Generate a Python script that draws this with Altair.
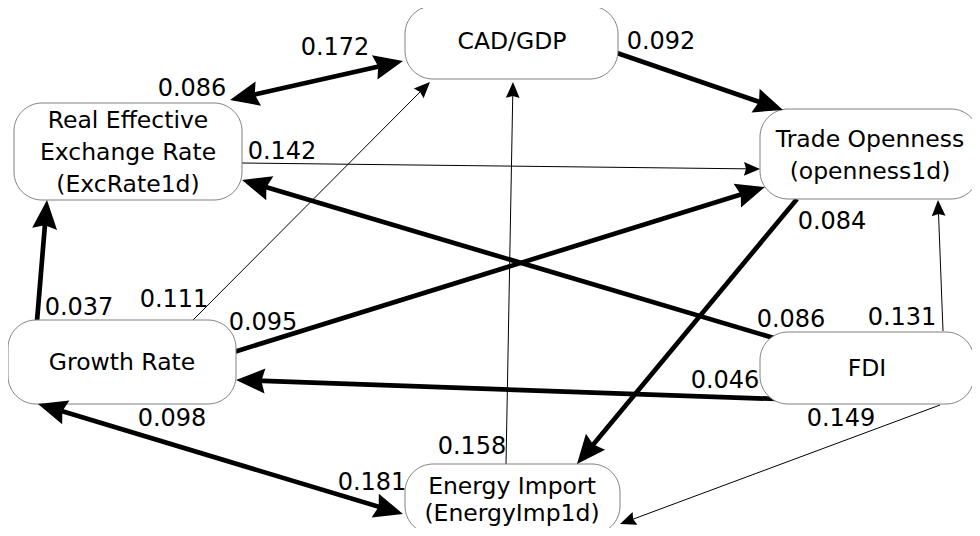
import math
import altair as alt
import pandas as pd

# ---------------- data ----------------
node_labels = [
    "CAD/GDP",
    "Real Effective\nExchange Rate\n(ExcRate1d)",
    "Trade Openness\n(openness1d)",
    "Growth Rate",
    "FDI",
    "Energy Import\n(EnergyImp1d)",
]

# path coefficients printed on the diagram
coef_values = ["0.172", "0.086", "0.092", "0.142", "0.084", "0.037", "0.111",
               "0.095", "0.098", "0.181", "0.158", "0.086", "0.131", "0.046", "0.149"]

# edges: source, target, thick line?, double-headed?
edge_source = ["REER", "CAD", "REER", "GR", "GR", "GR", "FDI", "FDI", "FDI", "FDI", "TO", "EI", "GR"]
edge_target = ["CAD", "TO", "TO", "REER", "CAD", "TO", "REER", "GR", "TO", "EI", "EI", "CAD", "EI"]
edge_thick = [True, True, False, True, False, True, True, True, False, False, True, False, True]
edge_both = [True, False, False, False, False, False, False, False, False, False, False, False, True]

# ---------------- layout (page pixel coordinates) ----------------
box_x1 = [405, 14, 760, 8, 760, 405]
box_x2 = [618, 242, 979, 236, 974, 620]
box_y1 = [6, 103, 109, 320, 332, 464]
box_y2 = [79, 200, 199, 404, 404, 534]
text_x = [512, 128, 870, 122, 867, 512]
text_y = [42, 121, 140, 363, 369, 487]   # centre of first text line
text_lh = [32, 32, 32, 32, 32, 27]

edge_x1 = [230, 617, 242, 37, 193, 234, 777, 777, 943, 940, 797, 506, 38]
edge_y1 = [100, 53, 163, 321, 320, 352, 339, 399, 331, 405, 199, 464, 404]
edge_x2 = [403, 783, 760, 47, 430, 765, 242, 236, 938, 620, 577, 513, 403]
edge_y2 = [61, 110, 169, 200, 82, 187, 180, 380, 200, 524, 464, 82, 514]

coef_x = [335, 192, 661, 282, 832, 79, 174, 263, 172, 372, 472, 791, 902, 725, 841]
coef_y = [48, 89, 42, 152, 222, 308, 300, 323, 419, 483, 447, 320, 318, 381, 419]

FONT = "DejaVu Sans"
THICK_W, THIN_W = 4.7, 1.0
THICK_HEAD, THIN_HEAD = 29, 16  # arrowhead length in px

# ---------------- build tables ----------------
nodes = pd.DataFrame({"label": node_labels, "x1": box_x1, "x2": box_x2,
                      "y1": box_y1, "y2": box_y2, "tx": text_x, "ty": text_y,
                      "lh": text_lh})

lines, heads = [], []
for i in range(len(edge_source)):
    x1, y1, x2, y2 = edge_x1[i], edge_y1[i], edge_x2[i], edge_y2[i]
    L = THICK_HEAD if edge_thick[i] else THIN_HEAD
    d = math.hypot(x2 - x1, y2 - y1)
    ux, uy = (x2 - x1) / d, (y2 - y1) / d
    ex, ey = x2 - ux * L * 0.7, y2 - uy * L * 0.7
    heads.append({"x": x2, "y": y2, "ang": math.degrees(math.atan2(ux, -uy)) % 360,
                  "s": L * L})
    sx, sy = x1, y1
    if edge_both[i]:
        sx, sy = x1 + ux * L * 0.7, y1 + uy * L * 0.7
        heads.append({"x": x1, "y": y1, "ang": math.degrees(math.atan2(-ux, uy)) % 360,
                      "s": L * L})
    lines.append({"x": sx, "y": sy, "x2": ex, "y2": ey,
                  "w": THICK_W if edge_thick[i] else THIN_W})

lines = pd.DataFrame(lines)
heads = pd.DataFrame(heads)
coefs = pd.DataFrame({"v": coef_values, "x": coef_x, "y": coef_y})

W, H = 964, 520
xs = alt.Scale(domain=[8, 8 + W], range=[0, W], nice=False, zero=False)
ys = alt.Scale(domain=[8, 8 + H], range=[0, H], nice=False, zero=False)
noax = dict(axis=None)

rules = alt.Chart(lines).mark_rule(color="black", strokeCap="butt").encode(
    x=alt.X("x:Q", scale=xs, **noax), y=alt.Y("y:Q", scale=ys, **noax),
    x2="x2:Q", y2="y2:Q",
    strokeWidth=alt.StrokeWidth("w:Q", scale=None),
)

boxes = alt.Chart(nodes).mark_rect(fill="white", stroke="#808080", strokeWidth=1,
                                   cornerRadius=28).encode(
    x=alt.X("x1:Q", scale=xs, **noax), x2="x2:Q",
    y=alt.Y("y1:Q", scale=ys, **noax), y2="y2:Q",
)

text_layers = []
for lh in sorted(set(text_lh)):
    text_layers.append(
        alt.Chart(nodes).transform_filter(alt.datum.lh == lh).mark_text(
            font=FONT, fontSize=23.5, lineBreak="\n", lineHeight=lh,
            align="center", baseline="middle", color="black").encode(
            x=alt.X("tx:Q", scale=xs, **noax), y=alt.Y("ty:Q", scale=ys, **noax),
            text="label:N",
        )
    )

arrowheads = alt.Chart(heads).mark_point(shape="M0,0 L0.86,2 L0,1.75 L-0.86,2 Z",
                                         filled=True, color="black", opacity=1,
                                         strokeWidth=0).encode(
    x=alt.X("x:Q", scale=xs, **noax), y=alt.Y("y:Q", scale=ys, **noax),
    angle=alt.Angle("ang:Q", scale=None),
    size=alt.Size("s:Q", scale=None),
)

coef_text = alt.Chart(coefs).mark_text(font=FONT, fontSize=24, align="center",
                                       baseline="middle", color="black").encode(
    x=alt.X("x:Q", scale=xs, **noax), y=alt.Y("y:Q", scale=ys, **noax),
    text="v:N",
)

chart = alt.layer(rules, boxes, *text_layers, arrowheads, coef_text).properties(
    width=W, height=H, padding=0, autosize="none", background="white"
).configure_view(stroke=None)

chart.save("out.html", embed_options={"renderer": "svg", "actions": False})
